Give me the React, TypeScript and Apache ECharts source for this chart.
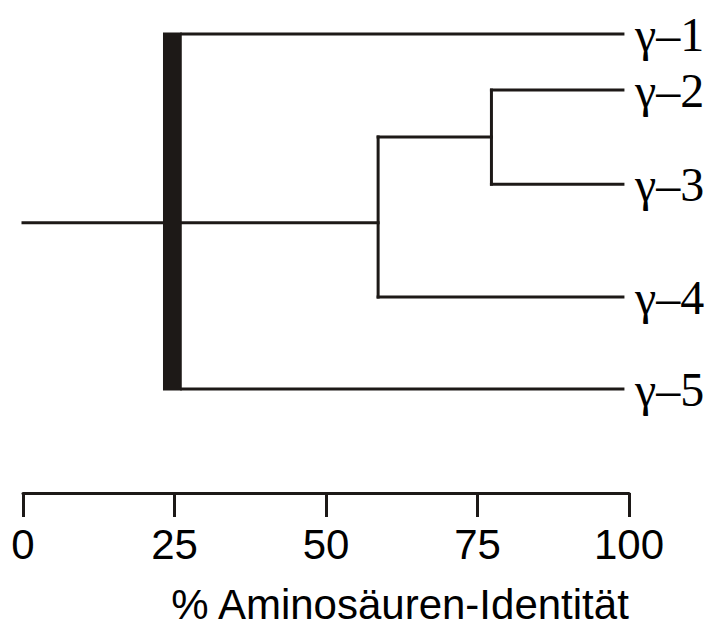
import React, { useEffect, useRef } from "react";
import * as echarts from "echarts";

// ---- data ----
const leaves = ["γ–1", "γ–2", "γ–3", "γ–4", "γ–5"];
const leafRow = [0, 15.8, 42.3, 74.1, 100]; // vertical order position of each leaf (0..100)
const leafEnd = 99; // % identity where leaf branches end
// inner clusters: identity (%), row, children
const innerNames = ["A", "B"];
const innerIdentity = [77.3, 58.6];
const innerRow = [29.0, 53.2];
const innerChildren = [["γ–2", "γ–3"], ["A", "γ–4"]];
// root cluster drawn as a band of identity
const rootBand = [23.1, 26.2];
const rootChildren = ["γ–1", "B", "γ–5"];
const rootRow = 53.2;
const rootStemStart = 0;
const xTicks = [0, 25, 50, 75, 100];

const INK = "#1d1917";

function rowOf(name: string): number {
  const li = leaves.indexOf(name);
  if (li >= 0) return leafRow[li];
  return innerRow[innerNames.indexOf(name)];
}
function identityOf(name: string): number {
  const li = leaves.indexOf(name);
  if (li >= 0) return leafEnd;
  return innerIdentity[innerNames.indexOf(name)];
}

function buildSegments(): number[][] {
  const segs: number[][] = [];
  innerNames.forEach((n, i) => {
    const x = innerIdentity[i];
    const rows = innerChildren[i].map(rowOf);
    segs.push([x, Math.min(...rows), x, Math.max(...rows)]);
    innerChildren[i].forEach((c) => {
      segs.push([x, rowOf(c), identityOf(c), rowOf(c)]);
    });
  });
  rootChildren.forEach((c) => {
    segs.push([rootBand[1], rowOf(c), identityOf(c), rowOf(c)]);
  });
  segs.push([rootStemStart, rootRow, rootBand[0], rootRow]);
  return segs;
}

export default function App() {
  const ref = useRef<HTMLDivElement>(null);
  useEffect(() => {
    if (!ref.current) return;
    const chart = echarts.init(ref.current, null, { renderer: "svg" });
    const segments = buildSegments();
    const rootRows = rootChildren.map(rowOf);
    chart.setOption({
      animation: false,
      backgroundColor: "#ffffff",
      grid: { left: 23, right: 81, top: 34, bottom: 241 },
      xAxis: {
        type: "value",
        min: 0,
        max: 100,
        interval: 25,
        position: "bottom",
        offset: 104,
        axisLine: { show: true, onZero: false, lineStyle: { color: INK, width: 3 } },
        axisTick: { show: true, length: 24, inside: false, lineStyle: { color: INK, width: 3 } },
        splitLine: { show: false },
        axisLabel: {
          margin: 30,
          color: "#000",
          fontSize: 42,
          fontFamily: "Liberation Sans, Arial, sans-serif",
          formatter: (v: number) => (xTicks.includes(v) ? String(v) : ""),
        },
        name: "% Aminosäuren-Identität",
        nameLocation: "middle",
        nameGap: 90,
        nameTextStyle: {
          color: "#000",
          fontSize: 42,
          fontFamily: "Liberation Sans, Arial, sans-serif",
          padding: [0, 0, 0, 148],
        },
      },
      yAxis: {
        type: "value",
        inverse: true,
        min: 0,
        max: 100,
        show: false,
      },
      series: [
        {
          type: "custom",
          data: [[rootBand[0], Math.min(...rootRows), rootBand[1], Math.max(...rootRows)]],
          encode: { x: [0, 2], y: [1, 3] },
          renderItem: (params: any, api: any) => {
            const p1 = api.coord([api.value(0), api.value(1)]);
            const p2 = api.coord([api.value(2), api.value(3)]);
            return {
              type: "rect",
              shape: { x: p1[0], y: p1[1] - 1.5, width: p2[0] - p1[0], height: p2[1] - p1[1] + 3 },
              style: { fill: INK },
            };
          },
          silent: true,
        },
        {
          type: "custom",
          data: segments,
          encode: { x: [0, 2], y: [1, 3] },
          renderItem: (params: any, api: any) => {
            const p1 = api.coord([api.value(0), api.value(1)]);
            const p2 = api.coord([api.value(2), api.value(3)]);
            return {
              type: "line",
              shape: { x1: p1[0], y1: p1[1], x2: p2[0], y2: p2[1] },
              style: { stroke: INK, lineWidth: 3, lineCap: "square" },
            };
          },
          silent: true,
        },
        {
          type: "scatter",
          symbolSize: 0,
          data: leaves.map((n, i) => [leafEnd, leafRow[i], n]),
          itemStyle: { opacity: 1 },
          label: {
            show: true,
            position: "right",
            distance: 12,
            formatter: (p: any) => p.value[2],
            color: "#000",
            opacity: 1,
            fontSize: 48,
            fontFamily: "Liberation Serif, Times New Roman, serif",
          },
          silent: true,
        },
      ],
    });
    return () => chart.dispose();
  }, []);
  return (
    <div
      ref={ref}
      style={{ position: "fixed", left: 0, top: 0, width: 710, height: 630 }}
    />
  );
}
